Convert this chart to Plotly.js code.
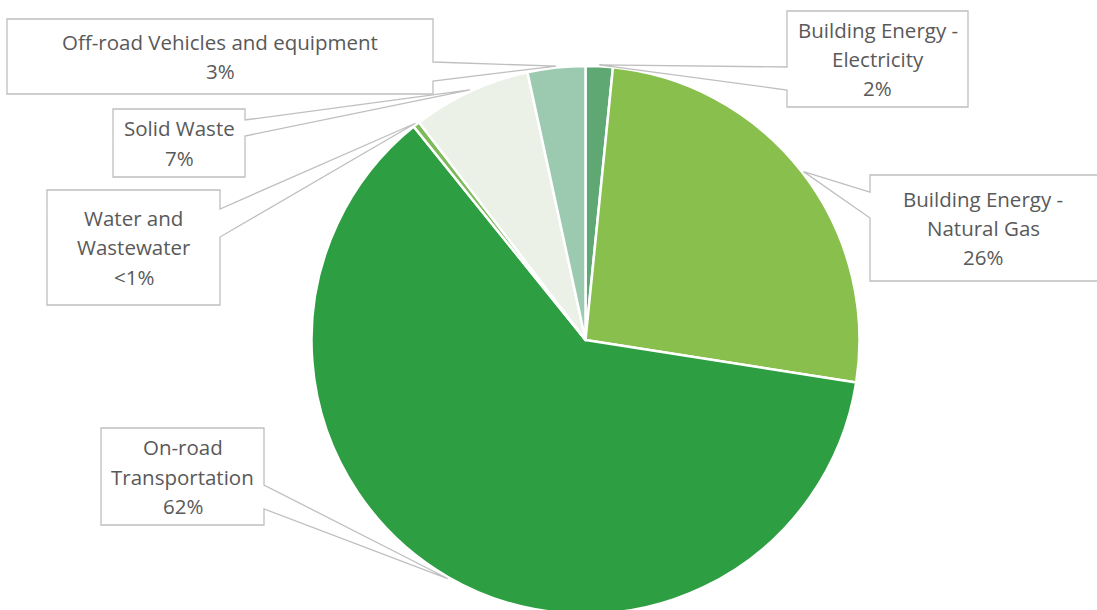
<!DOCTYPE html>
<html>
<head>
<meta charset="utf-8">
<script src="https://cdn.plot.ly/plotly-3.0.1.min.js"></script>
<style>html,body{margin:0;padding:0;overflow:hidden;background:#fff;}</style>
</head>
<body>
<div id="chart" style="width:1097px;height:618px;"></div>
<script>
// ---- data ----
const categories = ['Building Energy - Electricity', 'Building Energy - Natural Gas', 'On-road Transportation', 'Water and Wastewater', 'Solid Waste', 'Off-road Vehicles and equipment'];
const values = [1.6, 25.9, 61.8, 0.4, 7.0, 3.4];
const pctLabels = ['2%', '26%', '62%', '<1%', '7%', '3%'];
const labelLines = [
  ['Building Energy -', 'Electricity'],
  ['Building Energy -', 'Natural Gas'],
  ['On-road', 'Transportation'],
  ['Water and', 'Wastewater'],
  ['Solid Waste'],
  ['Off-road Vehicles and equipment']
];
const colors = ['#5fa773', '#88bf4d', '#2e9e42', '#7dbb5a', '#ebf1e6', '#9bcab0'];

// ---- layout (pixels) ----
const W = 1097, H = 618;
const cx = 585.5, cy = 340, r = 274;
// callout boxes: [left, top, right, bottom], wedge side, wedge y1, y2
const boxes = [
  {b: [787, 11, 968, 107], side: 'left', w: [67, 90]},
  {b: [870, 175, 1100, 281], side: 'left', w: [192, 218]},
  {b: [101, 428, 264, 525], side: 'right', w: [485, 509]},
  {b: [47, 190, 220, 305], side: 'right', w: [209, 237]},
  {b: [113, 109, 245, 177], side: 'right', w: [120, 136]},
  {b: [7, 19, 433, 94], side: 'right', w: [62, 81]}
];

const X = v => v / W;
const Y = v => 1 - v / H;

const total = values.reduce((a, b) => a + b, 0);
let cum = 0;
const shapes = [];
const annotations = [];
const lineH = 29.3;
values.forEach((v, i) => {
  const mid = (cum + v / 2) / total * 2 * Math.PI;
  cum += v;
  const R = 275.5;
  const tx = cx + R * Math.sin(mid), ty = cy - R * Math.cos(mid);
  const bx = boxes[i];
  const [L, T, Rr, B] = bx.b;
  let p;
  if (bx.side === 'right') {
    p = `M${X(L)},${Y(T)} L${X(Rr)},${Y(T)} L${X(Rr)},${Y(bx.w[0])} L${X(tx)},${Y(ty)} L${X(Rr)},${Y(bx.w[1])} L${X(Rr)},${Y(B)} L${X(L)},${Y(B)} Z`;
  } else {
    p = `M${X(L)},${Y(T)} L${X(Rr)},${Y(T)} L${X(Rr)},${Y(B)} L${X(L)},${Y(B)} L${X(L)},${Y(bx.w[1])} L${X(tx)},${Y(ty)} L${X(L)},${Y(bx.w[0])} Z`;
  }
  shapes.push({type: 'path', xref: 'paper', yref: 'paper', path: p,
    fillcolor: '#ffffff', line: {color: '#bfbfbf', width: 1.3}, layer: 'above'});
  const lines = labelLines[i].concat([pctLabels[i]]);
  const textCx = i === 1 ? 983 : (L + Rr) / 2;
  const ccy = (T + B) / 2;
  lines.forEach((t, k) => {
    const ly = ccy + (k - (lines.length - 1) / 2) * lineH;
    annotations.push({xref: 'paper', yref: 'paper', x: X(textCx), y: Y(ly),
      xanchor: 'center', yanchor: 'middle', showarrow: false, text: t,
      font: {family: 'Open Sans, sans-serif', size: 20.5, color: '#595959'}});
  });
});

const trace = {
  type: 'pie',
  labels: categories,
  values: values,
  sort: false,
  direction: 'clockwise',
  rotation: 0,
  textinfo: 'none',
  hoverinfo: 'label+percent',
  marker: {colors: colors, line: {color: '#ffffff', width: 2.5}},
  domain: {x: [(cx - 300) / W, (cx + 300) / W], y: [1 - (cy + r) / H, 1 - (cy - r) / H]},
  showlegend: false
};

Plotly.newPlot('chart', [trace], {
  width: W, height: H,
  margin: {l: 0, r: 0, t: 0, b: 0},
  paper_bgcolor: '#ffffff',
  showlegend: false,
  shapes: shapes,
  annotations: annotations
}, {displayModeBar: false, staticPlot: true});
</script>
</body>
</html>
